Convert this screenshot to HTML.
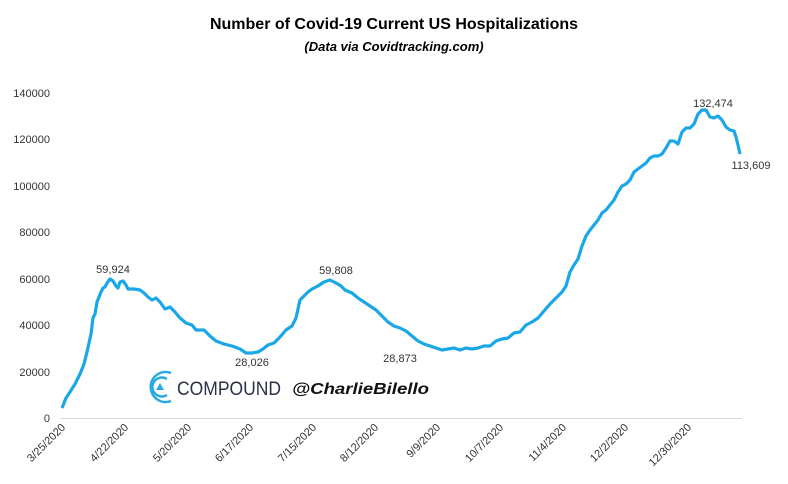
<!DOCTYPE html>
<html><head><meta charset="utf-8"><style>
html,body{margin:0;padding:0;background:#fff;}
svg{display:block;font-family:"Liberation Sans",sans-serif;}
</style></head><body>
<svg width="788" height="484" viewBox="0 0 788 484" xmlns="http://www.w3.org/2000/svg">
<rect width="788" height="484" fill="#fff"/>
<text x="394" y="29" text-anchor="middle" font-size="16" font-weight="bold" fill="#000">Number of Covid-19 Current US Hospitalizations</text>
<text x="394" y="51" text-anchor="middle" font-size="13" font-weight="bold" font-style="italic" fill="#000">(Data via Covidtracking.com)</text>
<g font-size="11" fill="#333" text-anchor="end">
<text x="50" y="422">0</text>
<text x="50" y="376">20000</text>
<text x="50" y="329">40000</text>
<text x="50" y="283">60000</text>
<text x="50" y="236">80000</text>
<text x="50" y="190">100000</text>
<text x="50" y="143">120000</text>
<text x="50" y="97">140000</text>
</g>
<line x1="60" y1="418.5" x2="742" y2="418.5" stroke="#d9d9d9" stroke-width="1"/>
<g font-size="11" fill="#333" text-anchor="end">
<text transform="translate(66,428) rotate(-45)">3/25/2020</text>
<text transform="translate(129,428) rotate(-45)">4/22/2020</text>
<text transform="translate(192,428) rotate(-45)">5/20/2020</text>
<text transform="translate(254,428) rotate(-45)">6/17/2020</text>
<text transform="translate(317,428) rotate(-45)">7/15/2020</text>
<text transform="translate(379,428) rotate(-45)">8/12/2020</text>
<text transform="translate(441,428) rotate(-45)">9/9/2020</text>
<text transform="translate(504,428) rotate(-45)">10/7/2020</text>
<text transform="translate(567,428) rotate(-45)">11/4/2020</text>
<text transform="translate(629,428) rotate(-45)">12/2/2020</text>
<text transform="translate(692,428) rotate(-45)">12/30/2020</text>
</g>
<polyline fill="none" stroke="#1aa7e8" stroke-width="3.2" stroke-linejoin="round" points="62,408 66,398 70,392 75,384 80,374 84,364 87,352 89,343 91,334 93,318 95,314 97,302 99,297 101,292 103,288 105,287 107,283 110,279 113,281 116,286 118,288 120,282 123,281 126,285 128,289 134,289 140,290 144,293 148,297 152,300 156,298 160,302 165,309 170,307 175,312 180,318 186,323 192,325 196,330 204,330 210,336 216,341 224,344 232,346 240,349 246,353 252,353 258,352 263,349 268,345 274,343 280,337 286,330 292,326 296,318 300,300 303,297 308,292 312,289 318,286 324,282 330,280 336,283 341,286 345,290 352,293 358,298 364,302 370,306 376,310 382,316 388,322 394,326 400,328 406,331 412,336 418,341 424,344 430,346 436,348 442,350 448,349 454,348 460,350 466,348 472,349 478,348 484,346 490,346 496,341 502,339 508,338 514,333 520,332 526,325 532,322 538,318 544,311 550,304 556,298 562,292 566,286 570,272 574,265 578,259 582,246 586,236 590,230 594,225 598,220 602,213 606,210 610,205 614,200 618,192 622,186 626,184 630,180 634,172 638,169 642,166 646,163 650,158 654,156 658,156 662,154 666,148 670,141 674,141 678,144 682,132 686,128 690,128 694,124 698,114 702,110 706,110 710,117 714,118 718,116 722,120 726,127 730,130 734,131 736,137 738,145 740,154"/>
<g font-size="11" fill="#333" text-anchor="middle">
<text x="113" y="273">59,924</text>
<text x="252" y="366">28,026</text>
<text x="336" y="274">59,808</text>
<text x="400" y="362">28,873</text>
<text x="713" y="107">132,474</text>
<text x="751" y="169">113,609</text>
</g>
<g transform="translate(160,387)">
<path d="M 11 -14 A 15 15 0 1 0 11 14" fill="none" stroke="#29a9e1" stroke-width="2.5"/>
<path d="M 7 -8 A 9.5 9.5 0 1 0 7 8" fill="none" stroke="#29a9e1" stroke-width="2.5"/>
<path d="M 0 -4 L 4 3 L -4 3 Z" fill="#29a9e1"/>
</g>
<text x="177" y="395" font-size="19" fill="#2b3245" textLength="104" lengthAdjust="spacingAndGlyphs">COMPOUND</text>
<text x="292" y="394" font-size="16" font-weight="bold" font-style="italic" fill="#111" textLength="137" lengthAdjust="spacingAndGlyphs">@CharlieBilello</text>
</svg>
</body></html>
